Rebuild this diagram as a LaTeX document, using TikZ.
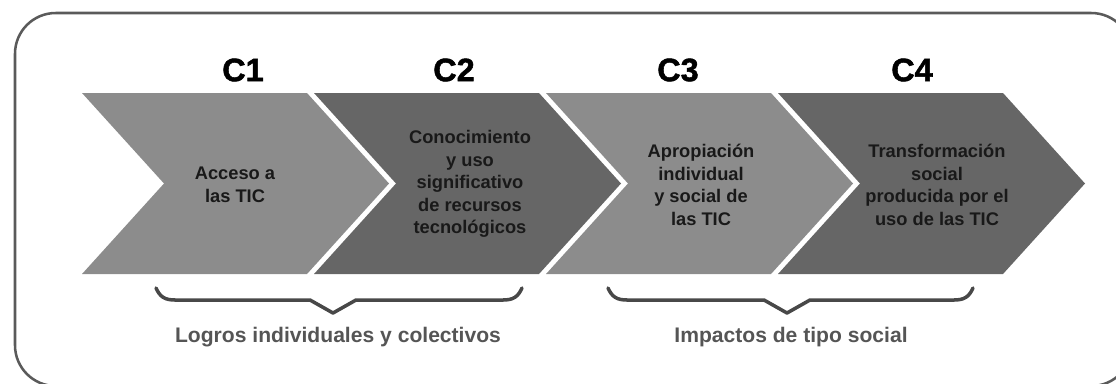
\documentclass[tikz,border=0pt]{standalone}
\usepackage{fontspec}
\setmainfont{Liberation Sans}
\newfontfamily\headfont[FakeBold=1.6]{Liberation Sans Bold}
\definecolor{chevlight}{HTML}{8C8C8C}
\definecolor{chevdark}{HTML}{666666}
\definecolor{framegray}{HTML}{5A5A5A}
\definecolor{bracegray}{HTML}{484848}
\definecolor{notegray}{HTML}{555555}
\tikzset{
  stagehead/.style={font=\headfont\fontsize{23}{28}\selectfont, text=black},
  stagetext/.style={font=\bfseries\fontsize{13}{16.1}\selectfont, align=center, text=black!90},
  groupnote/.style={font=\bfseries\fontsize{15}{18}\selectfont, text=notegray},
  bracestroke/.style={draw=bracegray, line width=2.5pt, line cap=round, line join=round}
}
\begin{document}
\begin{tikzpicture}[x=0.025cm,y=-0.025cm]

        \useasboundingbox (0,0) rectangle (1116,383);
        \clip (0,0) rectangle (1116,383);
        \draw[framegray, line width=1.8pt, rounded corners=29] (15,13) rectangle (1132,386);

        % chevrons
        \foreach \i/\col in {0/chevlight,1/chevdark,2/chevlight,3/chevdark} {
          \fill[\col] ({82+232*\i},93) -- ++(225,0) -- ++(82,90.5) -- ++(-82,90.5)
            -- ++(-225,0) -- ++(82,-90.5) -- cycle;
        }

        \begin{scope}[every node/.style={stagehead}]
          \node (c1) at (243,70) {C1};
          \node (c2) at (454,70) {C2};
          \node (c3) at (678,70) {C3};
          \node (c4) at (912,70) {C4};
        \end{scope}

        \begin{scope}[every node/.style={stagetext}]
          \node (s1) at (235,185) {Acceso a\\las TIC};
          \node (s2) at (470,184) {Conocimiento\\y uso\\significativo\\de recursos\\tecnológicos};
          \node (s3) at (701,185) {Apropiación\\individual\\y social de\\las TIC};
          \node (s4) at (937,185) {Transformación\\social\\producida por el\\uso de las TIC};
        \end{scope}

        % braces
        \foreach \a/\m/\b in {156/333/522, 608/787/973} {
          \path[bracestroke] (\a,288) .. controls ({\a+4},297) and ({\a+9},300) .. ({\a+19},300)
            -- ({\m-23},300) -- (\m,313) -- ({\m+23},300) -- ({\b-19},300)
            .. controls ({\b-9},300) and ({\b-4},297) .. (\b,288);
        }

        \node[groupnote] (g1) at (338,337) {Logros individuales y colectivos};
        \node[groupnote] (g2) at (791,337) {Impactos de tipo social};

      \end{tikzpicture}
\end{document}
